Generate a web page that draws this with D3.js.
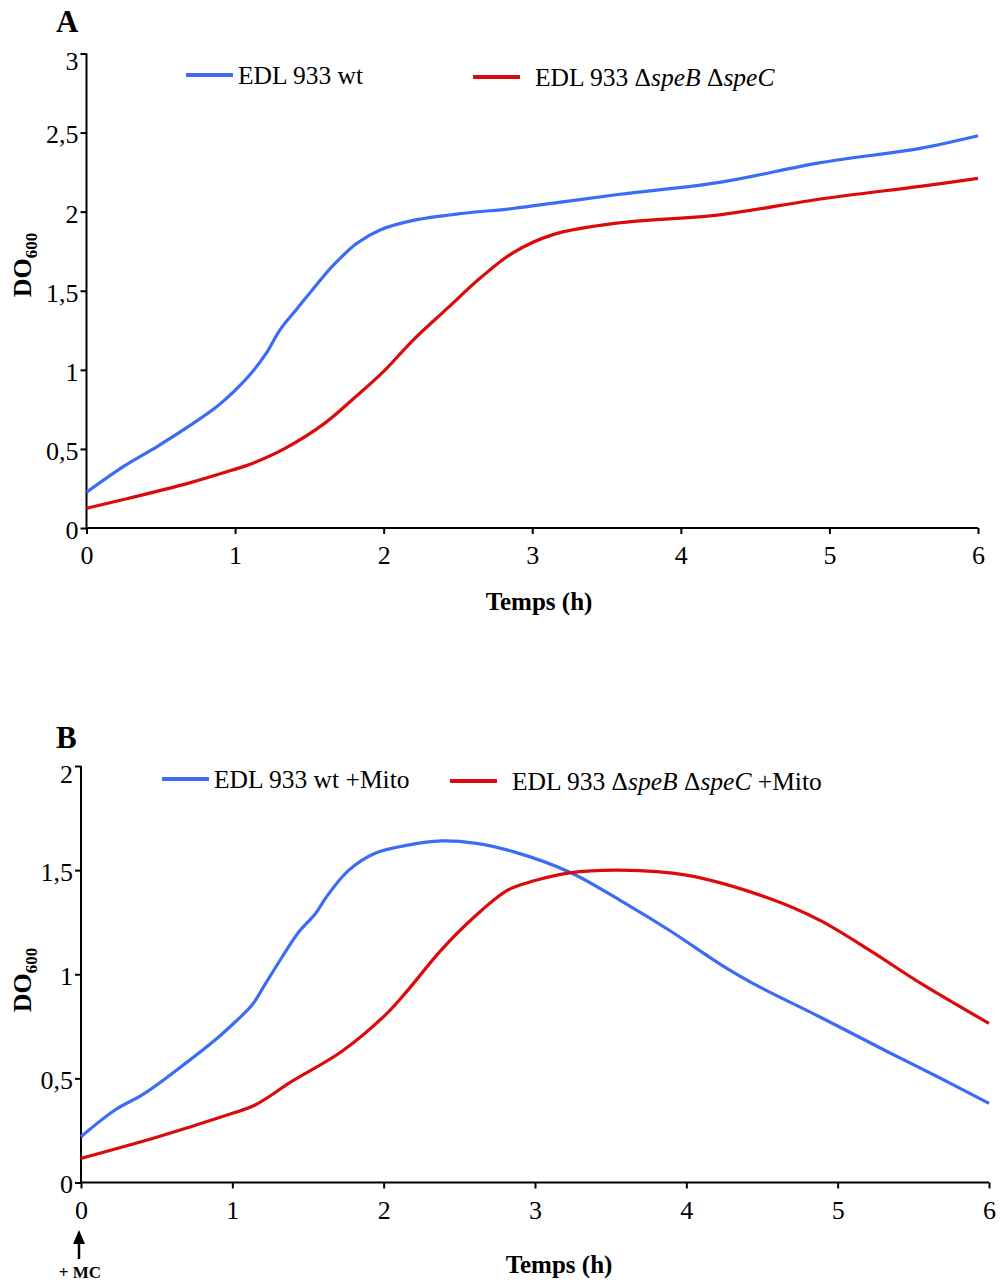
<!DOCTYPE html>
<html><head><meta charset="utf-8">
<script src="https://cdn.jsdelivr.net/npm/d3@7"></script>
<style>
html,body{margin:0;padding:0;background:#fff;}
svg{display:block;font-family:"Liberation Serif","Times New Roman",serif;}
</style></head>
<body>
<svg id="c" width="1001" height="1281"></svg>
<script>
// ---- data ----
const xTicks = [0,1,2,3,4,5,6];
const yTicksA = [0,0.5,1,1.5,2,2.5,3];
const yTicksB = [0,0.5,1,1.5,2];
const fmt = v => String(v).replace('.', ',');

const hoursA_wt = [0,0.25,0.475,0.70,0.88,1.0,1.11,1.21,1.30,1.42,1.55,1.66,1.82,1.98,2.20,2.54,2.87,3.19,3.59,4.26,4.94,5.61,6.0];
const odA_wt    = [0.226,0.39,0.515,0.65,0.77,0.87,0.98,1.105,1.25,1.39,1.54,1.66,1.80,1.886,1.945,1.99,2.02,2.06,2.11,2.185,2.31,2.40,2.48];
const hoursA_mut = [0,0.25,0.70,0.97,1.12,1.33,1.60,1.80,2.0,2.20,2.43,2.65,2.87,3.14,3.59,4.26,4.94,5.61,6.0];
const odA_mut    = [0.125,0.18,0.287,0.363,0.41,0.50,0.66,0.82,0.99,1.19,1.39,1.58,1.74,1.855,1.93,1.98,2.08,2.16,2.21];

const hoursB_wt = [0,0.225,0.42,0.69,0.886,1.02,1.13,1.22,1.33,1.44,1.55,1.63,1.77,1.94,2.16,2.38,2.60,2.85,3.23,3.56,3.89,4.22,4.44,4.88,5.33,5.66,6.0];
const odB_wt    = [0.22,0.348,0.428,0.572,0.684,0.772,0.852,0.956,1.084,1.204,1.292,1.38,1.50,1.58,1.62,1.64,1.63,1.59,1.49,1.356,1.21,1.05,0.956,0.796,0.628,0.508,0.38];
const hoursB_mut = [0,0.51,0.93,1.15,1.39,1.72,2.01,2.16,2.38,2.60,2.82,3.0,3.23,3.56,4.0,4.55,4.88,5.21,5.55,6.0];
const odB_mut    = [0.116,0.22,0.316,0.372,0.484,0.628,0.804,0.924,1.116,1.276,1.404,1.45,1.487,1.50,1.476,1.364,1.26,1.116,0.956,0.764];

const BLUE = "#3a6cf6", RED = "#dc0a0a";
const FS = 25.5;

const svg = d3.select("#c");

function legendText(g, x, y, mito) {
  const t = g.append("text").attr("x", x).attr("y", y).attr("font-size", FS);
  t.append("tspan").text("EDL 933 \u0394");
  t.append("tspan").attr("font-style","italic").text("speB");
  t.append("tspan").text(" \u0394");
  t.append("tspan").attr("font-style","italic").text("speC");
  if (mito) t.append("tspan").text(" +Mito");
}

function panel(opts) {
  const x = d3.scaleLinear().domain([0,6]).range([opts.x0, opts.x1]);
  const y = d3.scaleLinear().domain([0, opts.ymax]).range([opts.y0, opts.y1]);
  const g = svg.append("g");

  const xa = g.append("g").attr("transform", `translate(0,${opts.y0})`)
    .call(d3.axisBottom(x).tickValues(xTicks).tickSize(6).tickPadding(12).tickFormat(d=>d));
  const ya = g.append("g").attr("transform", `translate(${opts.x0},0)`)
    .call(d3.axisLeft(y).tickValues(opts.yTicks).tickSize(6).tickPadding(2).tickFormat(fmt));
  [xa, ya].forEach(a => {
    a.select(".domain").attr("stroke","#000").attr("stroke-width",2);
    a.selectAll(".tick line").attr("stroke","#000").attr("stroke-width",2);
    a.selectAll(".tick text").attr("font-size",26).attr("font-family","Liberation Serif").attr("fill","#000");
  });
  // top label sits slightly lower, as in the original
  ya.selectAll(".tick text").filter(d => d === opts.ymax).attr("dy","0.62em");
  ya.selectAll(".tick text").filter(d => d !== opts.ymax).attr("dy","0.4em");
  ya.select(".domain").attr("d", `M0,${opts.y0}V${opts.y1}`);
  xa.select(".domain").attr("d", `M${opts.x0},0H${opts.x1}`);

  const line = d3.line().x(d=>x(d[0])).y(d=>y(d[1])).curve(d3.curveCatmullRom.alpha(0.5));
  opts.series.forEach(s => {
    g.append("path").datum(d3.zip(s.h, s.v)).attr("d", line)
      .attr("fill","none").attr("stroke", s.c).attr("stroke-width", 3.2).attr("stroke-linejoin","round");
  });

  // panel letter
  g.append("text").attr("x", opts.letterX).attr("y", opts.letterY).attr("font-size",31)
    .attr("font-weight","bold").text(opts.letter);

  // axis titles
  g.append("text").attr("x", opts.xTitleX).attr("y", opts.xTitleY).attr("text-anchor","middle")
    .attr("font-size",25).attr("font-weight","bold").text("Temps (h)");
  const yt = g.append("text").attr("transform", `translate(${opts.yTitleX},${opts.yTitleY}) rotate(-90)`)
    .attr("text-anchor","middle").attr("font-size",26).attr("font-weight","bold");
  yt.append("tspan").text("DO");
  yt.append("tspan").attr("font-size",17).attr("dy",6).text("600");

  // legend
  const L = opts.legend;
  g.append("line").attr("x1",L.b[0]).attr("x2",L.b[0]+47).attr("y1",L.b[1]).attr("y2",L.b[1])
    .attr("stroke",BLUE).attr("stroke-width",4);
  g.append("text").attr("x",L.b[0]+52).attr("y",L.b[1]+9).attr("font-size",FS)
    .text(opts.mito ? "EDL 933 wt +Mito" : "EDL 933 wt");
  g.append("line").attr("x1",L.r[0]).attr("x2",L.r[0]+47).attr("y1",L.r[1]).attr("y2",L.r[1])
    .attr("stroke",RED).attr("stroke-width",4);
  legendText(g, L.r[0]+62, L.r[1]+9, opts.mito);
  return {x, y, g};
}

panel({
  x0: 86.5, x1: 978, y0: 528, y1: 53.5, ymax: 3, yTicks: yTicksA,
  letter: "A", letterX: 56, letterY: 32,
  xTitleX: 539, xTitleY: 610, yTitleX: 31, yTitleY: 265,
  legend: {b: [186, 75], r: [473, 77]}, mito: false,
  series: [{h: hoursA_wt, v: odA_wt, c: BLUE}, {h: hoursA_mut, v: odA_mut, c: RED}]
});

const pB = panel({
  x0: 81, x1: 989, y0: 1182.5, y1: 766, ymax: 2, yTicks: yTicksB,
  letter: "B", letterX: 56, letterY: 748,
  xTitleX: 559, xTitleY: 1273, yTitleX: 31, yTitleY: 980,
  legend: {b: [162, 779], r: [450, 781]}, mito: true,
  series: [{h: hoursB_wt, v: odB_wt, c: BLUE}, {h: hoursB_mut, v: odB_mut, c: RED}]
});

// +MC arrow
const ax = pB.x(0) - 2;
pB.g.append("line").attr("x1",ax).attr("x2",ax).attr("y1",1259).attr("y2",1240)
  .attr("stroke","#000").attr("stroke-width",2.5);
pB.g.append("path").attr("d",`M${ax-6},1244L${ax},1230L${ax+6},1244Z`).attr("fill","#000");
pB.g.append("text").attr("x",ax+1).attr("y",1278).attr("text-anchor","middle")
  .attr("font-size",17).attr("font-weight","bold").text("+ MC");
</script>
</body></html>
